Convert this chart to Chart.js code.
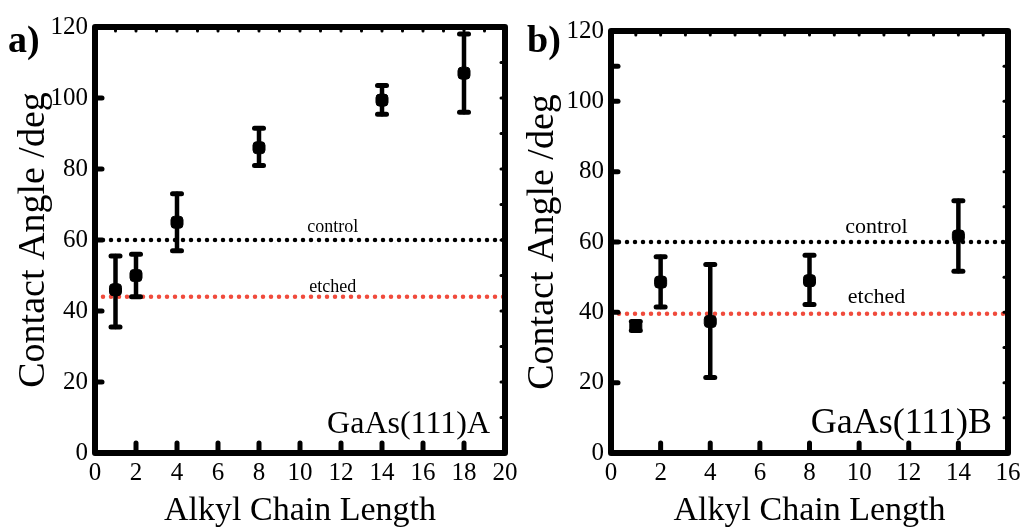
<!DOCTYPE html>
<html>
<head>
<meta charset="utf-8">
<script src="https://cdn.jsdelivr.net/npm/chart.js@4.4.0/dist/chart.umd.min.js"></script>
<style>
body { margin: 0; background: #fff; }
#wrap { position: relative; width: 1027px; height: 532px; }
.box { position: absolute; top: 0; height: 532px; }
</style>
</head>
<body>
<div id="wrap">
  <div class="box" style="left:0;width:520px"><canvas id="chartA"></canvas></div>
  <div class="box" style="left:520px;width:507px"><canvas id="chartB"></canvas></div>
</div>
<script>
// panel a) GaAs(111)A
var chainA = [1, 2, 4, 8, 14, 18];
var angleA = [46, 50, 65, 86, 99.4, 107];
var lowA = [35.5, 44, 57, 81, 95.4, 96];
var highA = [55.5, 56, 73, 91.5, 103.5, 118];
var controlA = 60;
var etchedA = 44;
var xTicksA = [0, 2, 4, 6, 8, 10, 12, 14, 16, 18, 20];

// panel b) GaAs(111)B
var chainB = [1, 2, 4, 8, 14];
var angleB = [36, 48.6, 37.4, 49, 61.7];
var lowB = [34.8, 41.5, 21.5, 42.2, 51.7];
var highB = [37.4, 55.8, 53.6, 56.2, 71.7];
var controlB = 60;
var etchedB = 39.6;
var xTicksB = [0, 2, 4, 6, 8, 10, 12, 14, 16];

var yTicks = [0, 20, 40, 60, 80, 100, 120];
var yMinor = [10, 20, 30, 40, 50, 60, 70, 80, 90, 100, 110];

var SERIF = '"Liberation Serif", "Times New Roman", serif';
var RED = '#f04b3c';

function line(ctx, x1, y1, x2, y2) {
  ctx.beginPath();
  ctx.moveTo(x1, y1);
  ctx.lineTo(x2, y2);
  ctx.stroke();
}

function makeDecor(cfg) {
  return {
    id: 'decor',
    afterDatasetsDraw: function(chart) {
      var ctx = chart.ctx, xs = chart.scales.x, ys = chart.scales.y;
      ctx.save();
      ctx.strokeStyle = '#000';
      ctx.lineCap = 'round';
      cfg.xs.forEach(function(xv, i) {
        var px = xs.getPixelForValue(xv);
        var lo = ys.getPixelForValue(cfg.low[i]);
        var hi = ys.getPixelForValue(cfg.high[i]);
        ctx.lineWidth = 4.5;
        line(ctx, px, lo, px, hi);
        ctx.lineWidth = 5;
        line(ctx, px - 4.5, lo, px + 4.5, lo);
        line(ctx, px - 4.5, hi, px + 4.5, hi);
      });
      ctx.restore();
    },
    afterDraw: function(chart) {
      var ctx = chart.ctx, xs = chart.scales.x, ys = chart.scales.y;
      var a = chart.chartArea;
      ctx.save();
      ctx.strokeStyle = '#000';
      ctx.lineCap = 'round';
      ctx.lineJoin = 'round';
      // frame
      ctx.lineWidth = 6;
      ctx.strokeRect(a.left, a.top, a.right - a.left, a.bottom - a.top);
      // left major ticks
      ctx.lineWidth = 5;
      cfg.yMajor.forEach(function(v) {
        var py = ys.getPixelForValue(v);
        line(ctx, a.left, py, a.left + 7, py);
      });
      // bottom major ticks
      cfg.xTicks.forEach(function(v) {
        if (v === xs.min || v === xs.max) return;
        var px = xs.getPixelForValue(v);
        line(ctx, px, a.bottom, px, a.bottom - 10);
      });
      // right / top minor ticks
      ctx.lineWidth = 3;
      yMinor.forEach(function(v) {
        var py = ys.getPixelForValue(v);
        line(ctx, a.right - 4, py, a.right, py);
      });
      for (var k = xs.min + 1; k < xs.max; k++) {
        var px = xs.getPixelForValue(k);
        line(ctx, px, a.top, px, a.top + 4);
      }
      // texts
      ctx.fillStyle = '#000';
      ctx.textAlign = 'center';
      ctx.textBaseline = 'alphabetic';
      ctx.font = cfg.lineFont + 'px ' + SERIF;
      ctx.fillText('control', xs.getPixelForValue(cfg.labelX), ys.getPixelForValue(cfg.control) - cfg.controlOff);
      ctx.fillText('etched', xs.getPixelForValue(cfg.labelX), ys.getPixelForValue(cfg.etched) - cfg.etchedOff);
      ctx.textAlign = 'right';
      ctx.font = cfg.sampleFont + 'px ' + SERIF;
      ctx.fillText(cfg.sample, a.right - cfg.sampleRight, a.bottom - 20);
      ctx.textAlign = 'left';
      ctx.font = 'bold 38px ' + SERIF;
      ctx.fillText(cfg.panel, cfg.panelX, 52);
      ctx.restore();
    }
  };
}

function makeChart(id, cfg) {
  var points = cfg.xs.map(function(x, i) { return { x: x, y: cfg.mean[i] }; });
  return new Chart(document.getElementById(id).getContext('2d'), {
    type: 'scatter',
    data: {
      datasets: [
        {
          data: points,
          pointStyle: 'rectRounded',
          pointRadius: 7,
          backgroundColor: '#000',
          borderColor: '#000'
        },
        {
          type: 'line',
          data: [{ x: cfg.xMin, y: cfg.control }, { x: cfg.xMax, y: cfg.control }],
          borderColor: '#000',
          borderWidth: 4.5,
          borderDash: [0, 8],
          borderCapStyle: 'round',
          pointRadius: 0
        },
        {
          type: 'line',
          data: [{ x: cfg.xMin, y: cfg.etched }, { x: cfg.xMax, y: cfg.etched }],
          borderColor: RED,
          borderWidth: 4.5,
          borderDash: [0, 8],
          borderCapStyle: 'round',
          pointRadius: 0
        }
      ]
    },
    options: {
      responsive: true,
      maintainAspectRatio: false,
      animation: false,
      layout: { padding: cfg.padding },
      plugins: { legend: { display: false }, tooltip: { enabled: false } },
      scales: {
        x: {
          type: 'linear',
          min: cfg.xMin,
          max: cfg.xMax,
          afterBuildTicks: function(s) { s.ticks = cfg.xTicks.map(function(v) { return { value: v }; }); },
          afterFit: function(s) { s.height = 79; s.paddingLeft = 0; s.paddingRight = 0; },
          grid: { display: false, drawTicks: false },
          border: { display: false },
          ticks: { color: '#000', padding: 5, maxRotation: 0, autoSkip: false, font: { family: SERIF, size: 25 } },
          title: { display: true, text: 'Alkyl Chain Length', color: '#000', padding: { top: 0, bottom: 1 }, font: { family: SERIF, size: 34 } }
        },
        y: {
          type: 'linear',
          min: 0,
          max: 120,
          afterBuildTicks: function(s) { s.ticks = yTicks.map(function(v) { return { value: v }; }); },
          afterFit: function(s) { s.width = cfg.yWidth; s.paddingTop = 0; s.paddingBottom = 0; },
          grid: { display: false, drawTicks: false },
          border: { display: false },
          ticks: { color: '#000', padding: 7, font: { family: SERIF, size: 25 } },
          title: { display: true, text: 'Contact Angle /deg', color: '#000', padding: { top: cfg.titlePad, bottom: 0 }, font: { family: SERIF, size: 38 } }
        }
      }
    },
    plugins: [makeDecor(cfg)]
  });
}

makeChart('chartA', {
  xs: chainA, mean: angleA, low: lowA, high: highA,
  control: controlA, etched: etchedA,
  xMin: 0, xMax: 20, xTicks: xTicksA,
  yMajor: [20, 40, 60, 80, 100],
  padding: { top: 27, right: 15, left: 0, bottom: 0 },
  yWidth: 95, titlePad: 11,
  labelX: 11.6, controlOff: 8, etchedOff: 5, lineFont: 18,
  sample: 'GaAs(111)A', sampleFont: 32, sampleRight: 15,
  panel: 'a)', panelX: 8
});

makeChart('chartB', {
  xs: chainB, mean: angleB, low: lowB, high: highB,
  control: controlB, etched: etchedB,
  xMin: 0, xMax: 16, xTicks: xTicksB,
  yMajor: [20, 40, 60, 80, 100, 110],
  padding: { top: 31, right: 19, left: 0, bottom: 0 },
  yWidth: 91, titlePad: 0,
  labelX: 10.7, controlOff: 9, etchedOff: 11, lineFont: 22,
  sample: 'GaAs(111)B', sampleFont: 36, sampleRight: 16,
  panel: 'b)', panelX: 7
});
</script>
</body>
</html>
